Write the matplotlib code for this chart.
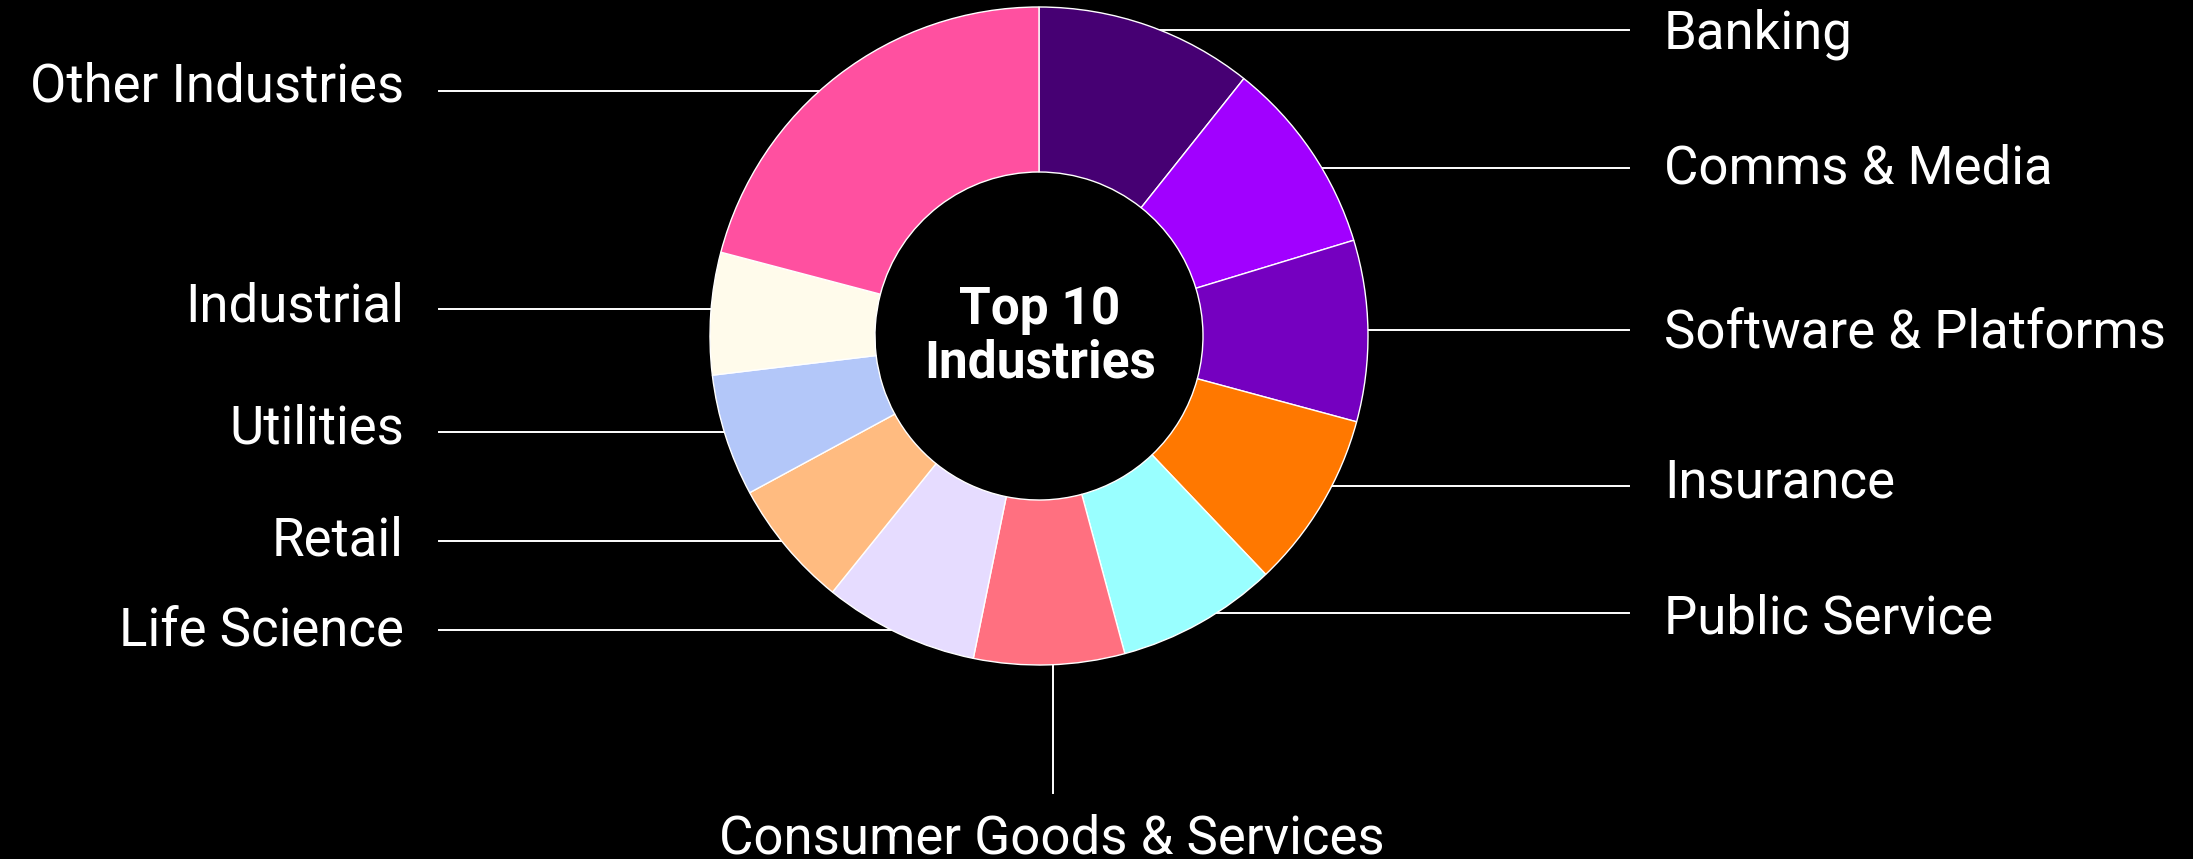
import matplotlib.pyplot as plt
import numpy as np

# Industry shares (percent of total), clockwise from 12 o'clock
industries = ["Banking", "Comms & Media", "Software & Platforms", "Insurance",
              "Public Service", "Consumer Goods & Services", "Life Science",
              "Retail", "Utilities", "Industrial", "Other Industries"]
shares = [10.7, 9.6, 8.9, 8.7, 7.9, 7.4, 7.6, 6.3, 6.0, 6.0, 20.9]
colors = ["#460073", "#A100FF", "#7500C0", "#FF7800", "#99FFFF", "#FF7080",
          "#E6DCFF", "#FFBB80", "#B3C7F9", "#FFFBEB", "#FF50A0"]

W, H = 2193, 859
cx, cy = 1039, 336          # donut centre (px, from top)
R, ring = 329, 165          # outer radius, ring width

fig = plt.figure(figsize=(W / 100, H / 100), dpi=100, facecolor="black")
ax = fig.add_axes([0, 0, 1, 1])
ax.set_facecolor("black")

ax.pie(shares, colors=colors, startangle=90, counterclock=False,
       center=(cx, H - cy), radius=R,
       wedgeprops=dict(width=ring, edgecolor="white", linewidth=1.0))

ax.set_xlim(0, W)
ax.set_ylim(0, H)
ax.set_aspect("equal")
ax.axis("off")

font = "Roboto"
fs = 38

def edge_x(y, side):
    dy = y - cy
    return cx + side * np.sqrt(R ** 2 - dy ** 2)

# label name -> (leader line y, text baseline y), in px from top
right = [("Banking", 30, 48), ("Comms & Media", 168, 183),
         ("Software & Platforms", 330, 348), ("Insurance", 486, 498),
         ("Public Service", 613, 633)]
for name, ly, ty in right:
    ax.plot([edge_x(ly, 1), 1629], [H - ly, H - ly], color="white", lw=1.4, zorder=0)
    ax.text(1664, H - ty, name, color="white", fontsize=fs, family=font,
            ha="left", va="baseline")

left = [("Other Industries", 91, 101), ("Industrial", 309, 322),
        ("Utilities", 432, 444), ("Retail", 541, 555), ("Life Science", 630, 646)]
for name, ly, ty in left:
    ax.plot([439, edge_x(ly, -1)], [H - ly, H - ly], color="white", lw=1.4, zorder=0)
    ax.text(404, H - ty, name, color="white", fontsize=fs, family=font,
            ha="right", va="baseline")

# bottom label with vertical leader
ax.plot([1053, 1053], [H - (cy + R - 2), H - 793], color="white", lw=1.4, zorder=0)
ax.text(1052, H - 854, "Consumer Goods & Services", color="white", fontsize=fs,
        family=font, ha="center", va="baseline")

# centre title
ax.text(cx + 1, H - 324, "Top 10", color="white", fontsize=37, family=font,
        fontweight="bold", ha="center", va="baseline")
ax.text(cx + 1, H - 378, "Industries", color="white", fontsize=37, family=font,
        fontweight="bold", ha="center", va="baseline")

fig.savefig("out.png", dpi=100, facecolor="black")
